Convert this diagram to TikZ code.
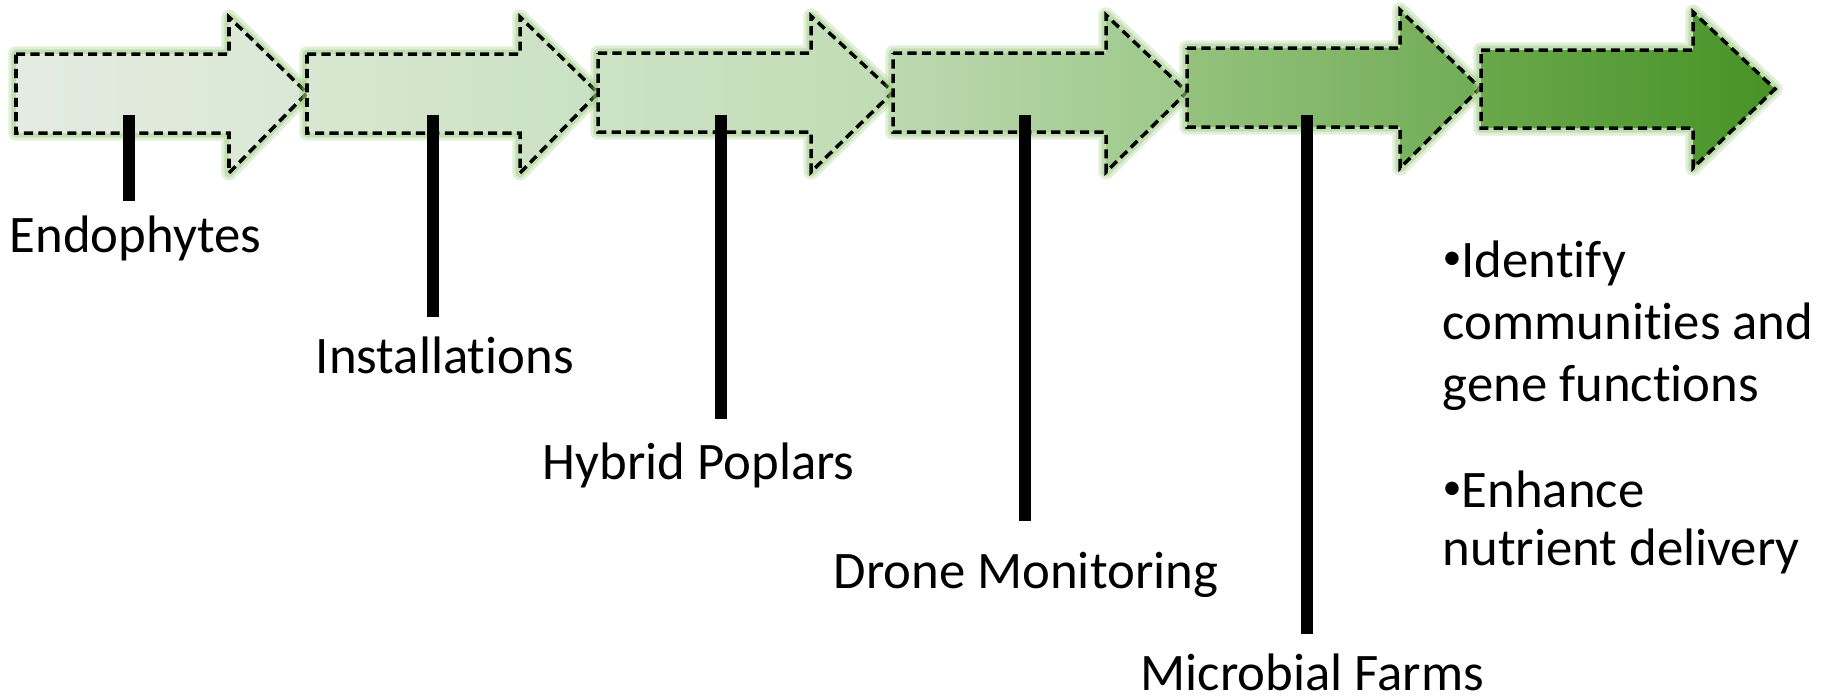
\documentclass[tikz,border=0pt]{standalone}
\usepackage{fontspec}
\setmainfont{Carlito}[Ligatures={NoCommon}]
\definecolor{glowc}{HTML}{9CCB82}
\definecolor{a1l}{HTML}{E4EBE1}\definecolor{a1r}{HTML}{D9E8D4}
\definecolor{a2l}{HTML}{D7E7D1}\definecolor{a2r}{HTML}{CAE1C2}
\definecolor{a3l}{HTML}{CCE2C4}\definecolor{a3r}{HTML}{C0DCB4}
\definecolor{a4l}{HTML}{BCD9AF}\definecolor{a4r}{HTML}{9DC88A}
\definecolor{a5l}{HTML}{94C27D}\definecolor{a5r}{HTML}{70AC55}
\definecolor{a6l}{HTML}{69A84B}\definecolor{a6r}{HTML}{479226}
\newcommand\tlarrow[9]{%
  \draw[glowc,opacity=0.3,line width=4.4pt,line join=round]
    (#1,#2) -- (#4,#2) -- (#4,#5) -- (#7,#8) -- (#4,#6) -- (#4,#3) -- (#1,#3) -- cycle;
  \draw[glowc,opacity=0.45,line width=2.6pt,line join=round]
    (#1,#2) -- (#4,#2) -- (#4,#5) -- (#7,#8) -- (#4,#6) -- (#4,#3) -- (#1,#3) -- cycle;
  \shade[#9]
    (#1,#2) -- (#4,#2) -- (#4,#5) -- (#7,#8) -- (#4,#6) -- (#4,#3) -- (#1,#3) -- cycle;
  \draw[outline]
    (#1,#2) -- (#4,#2) -- (#4,#5) -- (#7,#8) -- (#4,#6) -- (#4,#3) -- (#1,#3) -- cycle;
}
\newcommand\smallbullet{\raisebox{0.28ex}{\scalebox{0.72}{•}}}
\begin{document}
\begin{tikzpicture}[x=0.01cm,y=-0.01cm,
  lbl/.style={anchor=base west,inner sep=0pt,font=\fontsize{15}{18}\selectfont},
  stem/.style={line width=3.4pt,black},
  outline/.style={draw=black,line width=1pt,dash pattern=on 2.6pt off 1.5pt,line join=miter},
  sh1/.style={left color=a1l,right color=a1r},
  sh2/.style={left color=a2l,right color=a2r},
  sh3/.style={left color=a3l,right color=a3r},
  sh4/.style={left color=a4l,right color=a4r},
  sh5/.style={left color=a5l,right color=a5r},
  sh6/.style={left color=a6l,right color=a6r}]
\useasboundingbox (0,0) rectangle (1831,699);

% timeline arrows
\tlarrow{16}{54}{133}{229}{17}{173}{307}{93}{sh1}
\tlarrow{307}{54}{133}{520}{17}{173}{598}{93}{sh2}
\tlarrow{598}{53}{132}{811}{16}{172}{893}{92}{sh3}
\tlarrow{893}{53}{132}{1106}{15}{172}{1187}{92}{sh4}
\tlarrow{1187}{48}{127}{1400}{10}{168}{1480}{88}{sh5}
\tlarrow{1481}{50}{128}{1693}{12}{168}{1775}{89}{sh6}

% stems
\coordinate (s1t) at (129,115); \coordinate (s1b) at (129,201);
\coordinate (s2t) at (433,115); \coordinate (s2b) at (433,317);
\coordinate (s3t) at (721,115); \coordinate (s3b) at (721,419);
\coordinate (s4t) at (1025,115); \coordinate (s4b) at (1025,521);
\coordinate (s5t) at (1307,115); \coordinate (s5b) at (1307,634);
\draw[stem] (s1t) -- (s1b);
\draw[stem] (s2t) -- (s2b);
\draw[stem] (s3t) -- (s3b);
\draw[stem] (s4t) -- (s4b);
\draw[stem] (s5t) -- (s5b);

% labels
\node[lbl] (endo) at (9,252) {Endophytes};
\node[lbl] (inst) at (315,373) {Installations};
\node[lbl] (hybr) at (542,479) {Hybrid Poplars};
\node[lbl] (dron) at (833,588) {Drone Monitoring};
\node[lbl] (micr) at (1140,690) {Microbial Farms};

% bullet text
\node[lbl] (b1a) at (1442,277) {\smallbullet Identify};
\node[lbl] (b1b) at (1442,339) {communities and};
\node[lbl] (b1c) at (1442,401) {gene functions};
\node[lbl] (b2a) at (1442,507) {\smallbullet Enhance};
\node[lbl] (b2b) at (1442,565) {nutrient delivery};
\end{tikzpicture}
\end{document}
